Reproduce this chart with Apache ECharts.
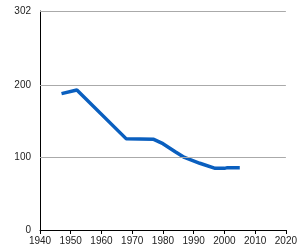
<!DOCTYPE html>
<html>
<head>
<meta charset="utf-8">
<script src="https://cdn.jsdelivr.net/npm/echarts@6/dist/echarts.min.js"></script>
<style>html,body{margin:0;padding:0;background:#fff}#c{width:300px;height:250px}</style>
</head>
<body>
<div id="c"></div>
<script>
var years = [1947, 1952, 1968, 1977, 1980, 1984, 1987, 1992, 1997, 2000, 2001, 2005];
var values = [188, 193, 126, 125, 119, 108, 100, 92, 85, 85, 86, 86];
var yTicks = [0, 100, 200, 302];
var xTicks = [1940, 1950, 1960, 1970, 1980, 1990, 2000, 2010, 2020];

var chart = echarts.init(document.getElementById('c'), null, {renderer: 'canvas'});
var pts = years.map(function (y, i) { return [y, values[i]]; });
chart.setOption({
  animation: false,
  grid: {left: 40, right: 10, top: 11, bottom: 20, containLabel: false},
  xAxis: {
    type: 'value', min: 1940, max: 2020, interval: 10,
    axisLine: {show: true, lineStyle: {color: '#000', width: 1}},
    axisTick: {show: true, length: 4, lineStyle: {color: '#000'}},
    axisLabel: {color: '#222', fontFamily: 'Liberation Sans', fontSize: 10, margin: 6,
      customValues: xTicks, formatter: function (v) { return String(v); }},
    splitLine: {show: false}
  },
  yAxis: {
    type: 'value', min: 0, max: 302,
    axisLine: {show: true, lineStyle: {color: '#000', width: 1}},
    axisTick: {show: false, customValues: yTicks},
    axisLabel: {color: '#222', fontFamily: 'Liberation Sans', fontSize: 10, margin: 9,
      customValues: yTicks, formatter: function (v) { return String(v); }},
    splitLine: {show: false}
  },
  series: [{
    type: 'line', data: pts, showSymbol: false, symbol: 'none',
    lineStyle: {color: '#0a5fbf', width: 3.5},
    markLine: {
      silent: true, symbol: 'none', label: {show: false},
      lineStyle: {color: '#aaaaaa', width: 1, type: 'solid'},
      data: yTicks.filter(function (v) { return v > 0; }).map(function (v) { return {yAxis: v}; })
    },
    z: 3
  }]
});
</script>
</body>
</html>
